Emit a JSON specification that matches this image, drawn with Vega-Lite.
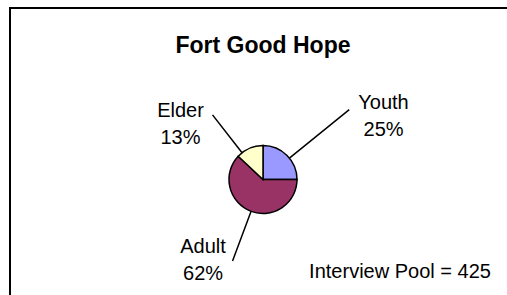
{
  "$schema": "https://vega.github.io/schema/vega-lite/v6.json",
  "width": 506,
  "height": 343,
  "autosize": {"type": "none"},
  "padding": {"left": 10, "top": 8, "right": 0, "bottom": 0},
  "background": "white",
  "view": {"stroke": "black", "strokeWidth": 2, "strokeDash": [506, 849, 343, 1]},
  "config": {
    "font": "Liberation Sans"
  },
  "title": {
    "text": "Fort Good Hope",
    "font": "Liberation Sans",
    "fontSize": 23,
    "fontWeight": "bold",
    "color": "black",
    "anchor": "middle",
    "frame": "group",
    "offset": -50
  },
  "datasets": {
    "slices": [
      {"group": "Youth", "share": 25},
      {"group": "Adult", "share": 62},
      {"group": "Elder", "share": 13}
    ],
    "note": [{"text": "Interview Pool = 425"}]
  },
  "layer": [
    {
      "data": {"name": "slices"},
      "transform": [
        {"window": [{"op": "row_number", "as": "idx"}]},
        {"stack": "share", "groupby": [], "sort": [{"field": "idx", "order": "ascending"}], "as": ["v0", "v1"]},
        {"calculate": "datum.group + '\\n' + datum.share + '%'", "as": "label"}
      ],
      "encoding": {
        "theta": {"field": "v0", "type": "quantitative", "scale": {"domain": [0, 100]}}
      },
      "layer": [
        {
          "mark": {"type": "arc", "radius": 34, "stroke": "black", "strokeWidth": 1.5},
          "encoding": {
            "theta2": {"field": "v1"},
            "color": {
              "field": "group",
              "type": "nominal",
              "scale": {"domain": ["Youth", "Adult", "Elder"], "range": ["#9999FF", "#993366", "#FFFFCC"]},
              "legend": null
            }
          }
        },
        {
          "mark": {"type": "arc", "radius": 111, "radius2": 34, "thetaOffset": 0.8901, "theta2Offset": 0.8901, "filled": false, "stroke": "black", "strokeWidth": 1.5},
          "encoding": {"theta2": {"field": "v0"}, "strokeOpacity": {"condition": {"test": "datum.group === 'Youth'", "value": 1}, "value": 0}}
        },
        {
          "mark": {"type": "arc", "radius": 87, "radius2": 34, "thetaOffset": 1.9286, "theta2Offset": 1.9286, "filled": false, "stroke": "black", "strokeWidth": 1.5},
          "encoding": {"theta2": {"field": "v0"}, "strokeOpacity": {"condition": {"test": "datum.group === 'Adult'", "value": 1}, "value": 0}}
        },
        {
          "mark": {"type": "arc", "radius": 82, "radius2": 34, "thetaOffset": 0.1536, "theta2Offset": 0.1536, "filled": false, "stroke": "black", "strokeWidth": 1.5},
          "encoding": {"theta2": {"field": "v0"}, "strokeOpacity": {"condition": {"test": "datum.group === 'Elder'", "value": 1}, "value": 0}}
        },
        {
          "mark": {"type": "text", "radius": 136, "thetaOffset": 1.0891, "dy": -13.5, "fontSize": 20, "lineBreak": "\n", "lineHeight": 27, "align": "center", "baseline": "middle", "color": "black"},
          "encoding": {"text": {"condition": {"test": "datum.group === 'Youth'", "field": "label", "type": "nominal"}, "value": ""}}
        },
        {
          "mark": {"type": "text", "radius": 100.8, "thetaOffset": 2.2079, "dy": -13.5, "fontSize": 20, "lineBreak": "\n", "lineHeight": 27, "align": "center", "baseline": "middle", "color": "black"},
          "encoding": {"text": {"condition": {"test": "datum.group === 'Adult'", "field": "label", "type": "nominal"}, "value": ""}}
        },
        {
          "mark": {"type": "text", "radius": 98.9, "thetaOffset": -0.1702, "dy": -13.5, "fontSize": 20, "lineBreak": "\n", "lineHeight": 27, "align": "center", "baseline": "middle", "color": "black"},
          "encoding": {"text": {"condition": {"test": "datum.group === 'Elder'", "field": "label", "type": "nominal"}, "value": ""}}
        }
      ]
    },
    {
      "data": {"name": "note"},
      "mark": {"type": "text", "x": 390, "y": 263.5, "fontSize": 20, "align": "center", "baseline": "middle", "color": "black"},
      "encoding": {"text": {"field": "text", "type": "nominal"}}
    }
  ]
}
